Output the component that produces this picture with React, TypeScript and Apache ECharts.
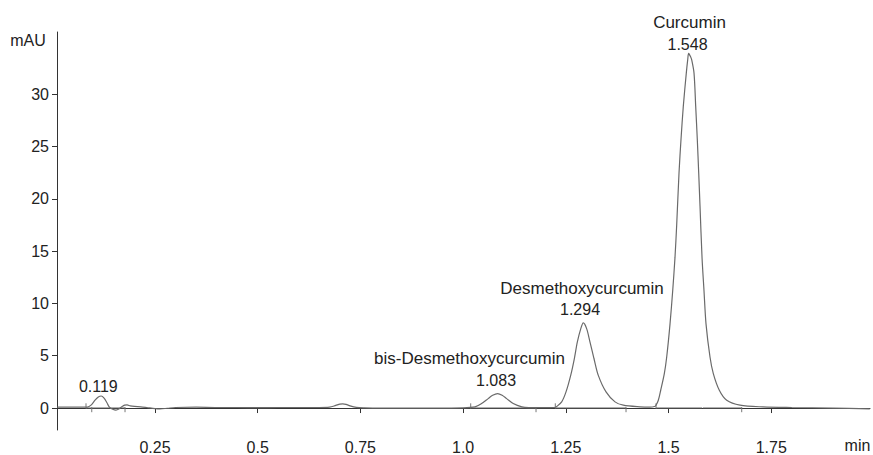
import React, { useEffect, useRef } from "react";
import * as echarts from "echarts";

// Retention time (min) and absorbance (mAU)
const timeMin: number[] = [
  0.012, 0.05, 0.085, 0.095, 0.104, 0.112, 0.119, 0.126, 0.133, 0.139,
  0.147, 0.155, 0.162, 0.169, 0.176, 0.182, 0.19, 0.2, 0.215, 0.23,
  0.25, 0.262, 0.28, 0.3, 0.35, 0.4, 0.45, 0.5, 0.55, 0.6,
  0.65, 0.675, 0.69, 0.7, 0.707, 0.715, 0.725, 0.74, 0.76, 0.8,
  0.9, 1.0, 1.029, 1.045, 1.061, 1.072, 1.084, 1.095, 1.106, 1.122,
  1.143, 1.16, 1.2, 1.222, 1.228, 1.24, 1.2505, 1.2619, 1.2707, 1.278,
  1.2863, 1.2926, 1.3009, 1.3089, 1.3187, 1.3291, 1.3479, 1.3698, 1.39, 1.4306,
  1.455, 1.466, 1.4696, 1.4752, 1.481, 1.4898, 1.4956, 1.5037, 1.5102, 1.5158,
  1.52, 1.5256, 1.5304, 1.536, 1.5433, 1.5467, 1.549, 1.5535, 1.5565, 1.5621,
  1.5662, 1.5701, 1.5735, 1.5767, 1.5816, 1.5864, 1.5913, 1.601, 1.6091, 1.6237,
  1.6417, 1.6741, 1.73, 1.8, 1.9, 1.99,
];
const absorbance: number[] = [
  0.08, 0.08, 0.08, 0.3, 0.75, 1.05, 1.15, 0.95, 0.5, 0.08,
  -0.12, -0.2, -0.1, 0.12, 0.28, 0.3, 0.2, 0.15, 0.12, 0.05,
  -0.05, -0.08, -0.02, 0.05, 0.08, 0.05, 0.05, 0.03, 0.05, 0.05,
  0.05, 0.08, 0.25, 0.38, 0.4, 0.35, 0.2, 0.06, 0.02, 0.0,
  0.0, 0.02, 0.11, 0.43, 0.9, 1.22, 1.38, 1.22, 0.9, 0.43,
  0.11, 0.04, 0.03, 0.05, 0.15, 0.59, 1.54, 3.12, 4.71, 6.3,
  7.57, 8.14, 7.57, 6.3, 4.71, 3.12, 1.54, 0.59, 0.27, 0.11,
  0.08, 0.15, 0.27, 0.74, 1.7, 3.29, 4.88, 8.05, 11.22, 14.4,
  17.57, 22.5, 25.67, 28.84, 32.02, 33.28, 33.9, 33.6, 33.28, 32.02,
  28.84, 25.67, 22.5, 19.31, 14.4, 11.22, 8.05, 4.88, 3.29, 1.7,
  0.74, 0.27, 0.11, 0.05, 0.0, -0.08,
];

// Integration baselines (start, end) and event ticks
const baselineStarts: number[] = [0.082, 1.0185, 1.2244, 1.4696, 1.584];
const baselineEnds: number[] = [0.177, 1.1775, 1.3966, 1.582, 1.6782];
const tickUp: number[] = [0.082, 1.0185, 1.2244, 1.4696];
const tickDown: number[] = [0.096, 0.177, 1.1775, 1.3966, 1.6782];

const xTickValues: number[] = [0.25, 0.5, 0.75, 1.0, 1.25, 1.5, 1.75];
const xTickLabels: string[] = ["0.25", "0.5", "0.75", "1.0", "1.25", "1.5", "1.75"];
const yTickValues: number[] = [0, 5, 10, 15, 20, 25, 30];

const FONT = "'Liberation Sans', Arial, sans-serif";
const TEXT = "#222";

export default function App() {
  const ref = useRef<HTMLDivElement>(null);
  useEffect(() => {
    if (!ref.current) return;
    const chart = echarts.init(ref.current, undefined, { renderer: "svg" });
    const trace = timeMin.map((t, i) => [t, absorbance[i]]);
    const marks: any[] = [];
    baselineStarts.forEach((s, i) => {
      marks.push({
        type: "line",
        data: [[s, 0.03], [baselineEnds[i], 0.03]],
        symbol: "none",
        lineStyle: { color: "#9a9a9a", width: 1 },
        silent: true,
        z: 1,
      });
    });
    tickUp.forEach((t) => {
      marks.push({
        type: "line",
        data: [[t, -0.05], [t, 0.45]],
        symbol: "none",
        lineStyle: { color: "#777", width: 1 },
        silent: true,
        z: 1,
      });
    });
    tickDown.forEach((t) => {
      marks.push({
        type: "line",
        data: [[t, 0.1], [t, -0.4]],
        symbol: "none",
        lineStyle: { color: "#777", width: 1 },
        silent: true,
        z: 1,
      });
    });
    const txt = (text: string, x: number, y: number, size: number) => ({
      type: "text",
      x,
      y,
      style: {
        text,
        fill: TEXT,
        font: `${size}px ${FONT}`,
        align: "center",
        verticalAlign: "middle",
      },
    });
    chart.setOption({
      animation: false,
      grid: { left: 57, right: 3, top: 32, bottom: 23.5, containLabel: false },
      xAxis: {
        type: "value",
        min: 0.0114,
        max: 1.9905,
        axisLine: { show: true, lineStyle: { color: "#333", width: 1 } },
        axisTick: { show: true, length: 5, customValues: xTickValues, lineStyle: { color: "#333" } },
        axisLabel: {
          customValues: xTickValues,
          formatter: (v: number) => {
            const i = xTickValues.findIndex((x) => Math.abs(x - v) < 1e-6);
            return i >= 0 ? xTickLabels[i] : "";
          },
          color: TEXT,
          fontSize: 16,
          fontFamily: FONT,
          margin: 9,
        },
        splitLine: { show: false },
      },
      yAxis: {
        type: "value",
        min: -2.1,
        max: 35.95,
        axisLine: { show: true, lineStyle: { color: "#333", width: 1 } },
        axisTick: { show: true, length: 5, customValues: yTickValues, lineStyle: { color: "#333" } },
        axisLabel: {
          customValues: yTickValues,
          color: TEXT,
          fontSize: 16,
          fontFamily: FONT,
          margin: 8,
        },
        splitLine: { show: false },
      },
      series: [
        {
          type: "line",
          data: trace,
          symbol: "none",
          smooth: 0.3,
          lineStyle: { color: "#6a6a6a", width: 1.2 },
          z: 3,
          silent: true,
        },
        ...marks,
      ],
      graphic: [
        txt("mAU", 28, 40, 16),
        txt("min", 857.5, 445.5, 16),
        txt("0.119", 98.3, 386, 16),
        txt("bis-Desmethoxycurcumin", 469.5, 358, 17),
        txt("1.083", 496, 380, 16),
        txt("Desmethoxycurcumin", 582, 288, 17),
        txt("1.294", 580, 309, 16),
        txt("Curcumin", 689.5, 22.5, 17),
        txt("1.548", 687.5, 44, 16),
      ],
    });
    return () => chart.dispose();
  }, []);
  return (
    <div
      ref={ref}
      style={{ position: "fixed", left: 0, top: 0, width: 873, height: 455, background: "#fff" }}
    />
  );
}
